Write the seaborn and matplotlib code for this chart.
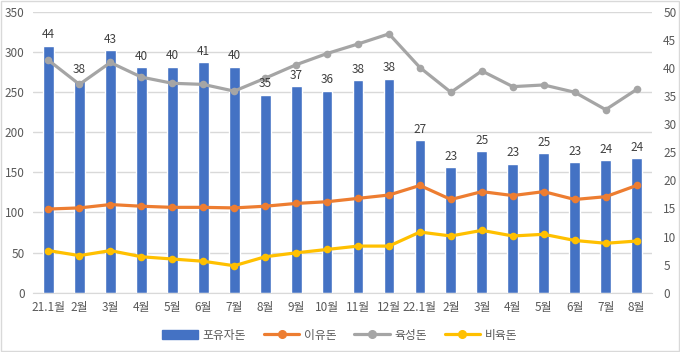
import numpy as np
import pandas as pd
import seaborn as sns
import matplotlib.pyplot as plt
from matplotlib.lines import Line2D
from matplotlib.patches import Patch, Rectangle

# x categories
months = ['21.1월', '2월', '3월', '4월', '5월', '6월', '7월', '8월', '9월', '10월',
          '11월', '12월', '22.1월', '2월', '3월', '4월', '5월', '6월', '7월', '8월']

# 포유자돈 bars (left axis) and the labels printed on top
sows = [308, 265, 302, 281, 282, 287, 282, 247, 258, 252,
        265, 267, 190, 157, 177, 161, 174, 163, 165, 168]
sowLabels = [44, 38, 43, 40, 40, 41, 40, 35, 37, 36,
             38, 38, 27, 23, 25, 23, 25, 23, 24, 24]

# lines (right axis)
weaning = [14.9, 15.1, 15.7, 15.4, 15.2, 15.2, 15.1, 15.4, 15.9, 16.2,
           16.8, 17.4, 19.1, 16.6, 18.0, 17.3, 18.0, 16.6, 17.1, 19.1]
growing = [41.4, 37.1, 41.0, 38.4, 37.3, 37.1, 35.9, 38.2, 40.6, 42.6,
           44.3, 46.1, 40.1, 35.7, 39.5, 36.7, 37.0, 35.7, 32.6, 36.2]
finishing = [7.5, 6.6, 7.5, 6.4, 6.0, 5.6, 4.8, 6.4, 7.1, 7.7,
             8.3, 8.3, 10.8, 10.1, 11.1, 10.1, 10.4, 9.3, 8.8, 9.2]

blue, orange, gray, yellow = '#4472C4', '#ED7D31', '#A5A5A5', '#FFC000'
txt = '#595959'

sns.set_style('white')
plt.rcParams['font.family'] = ['Noto Sans CJK KR', 'DejaVu Sans']

barFrame = pd.DataFrame({'pos': np.arange(len(months)), 'val': sows})
lineFrame = pd.DataFrame({'pos': np.arange(len(months)), '이유돈': weaning,
                          '육성돈': growing, '비육돈': finishing})

fig = plt.figure(figsize=(6.8, 3.52), dpi=100)
ax = fig.add_axes([0.0485, 0.1685, 0.9105, 0.7975])

sns.barplot(data=barFrame, x='pos', y='val', color=blue, width=0.35,
            saturation=1, ax=ax, zorder=2)

ax.set_ylim(0, 350)
ax.set_yticks(range(0, 351, 50))
ax.set_xlim(-0.5, len(months) - 0.5)
ax.set_xticks(range(len(months)))
ax.set_xticklabels(months)
ax.grid(axis='y', color='#d9d9d9', lw=1, zorder=0)
ax.set_axisbelow(True)
ax.set_xlabel('')
ax.set_ylabel('')
for s in ['top', 'right', 'left']:
    ax.spines[s].set_visible(False)
ax.spines['bottom'].set_color('#d9d9d9')
ax.tick_params(axis='both', length=0, labelsize=8.5, colors=txt, pad=6)

ax2 = ax.twinx()
for col, c in [('이유돈', orange), ('육성돈', gray), ('비육돈', yellow)]:
    sns.lineplot(data=lineFrame, x='pos', y=col, color=c, lw=2.3, marker='o',
                 markersize=5.5, markeredgewidth=0, ax=ax2)
ax2.set_ylim(0, 50)
ax2.set_yticks(range(0, 51, 5))
ax2.set_ylabel('')
ax2.set_xlabel('')
for s in ['top', 'right', 'left', 'bottom']:
    ax2.spines[s].set_visible(False)
ax2.tick_params(axis='y', length=0, labelsize=8.5, colors=txt, pad=8)

# bar labels drawn on the top axes so they sit above the lines
for rect, lab in zip(ax.containers[0], sowLabels):
    ax2.annotate(str(lab), (rect.get_x() + rect.get_width() / 2, rect.get_height()),
                 xycoords=ax.transData, xytext=(0, 3), textcoords='offset points',
                 ha='center', va='bottom', fontsize=8.5, color='#404040', zorder=5)

handles = [Patch(color=blue),
           Line2D([], [], color=orange, lw=2.3, marker='o', markersize=5.5),
           Line2D([], [], color=gray, lw=2.3, marker='o', markersize=5.5),
           Line2D([], [], color=yellow, lw=2.3, marker='o', markersize=5.5)]
fig.legend(handles, ['포유자돈', '이유돈', '육성돈', '비육돈'], loc='center',
           bbox_to_anchor=(0.5, 0.048), ncol=4, frameon=False, fontsize=8.5,
           labelcolor=txt, handlelength=3, columnspacing=1.5, handletextpad=0.4)

fig.patches.append(Rectangle((0.001, 0.002), 0.997, 0.995, transform=fig.transFigure,
                             fill=False, edgecolor='#d9d9d9', lw=1))

fig.savefig('out.png', dpi=100)
